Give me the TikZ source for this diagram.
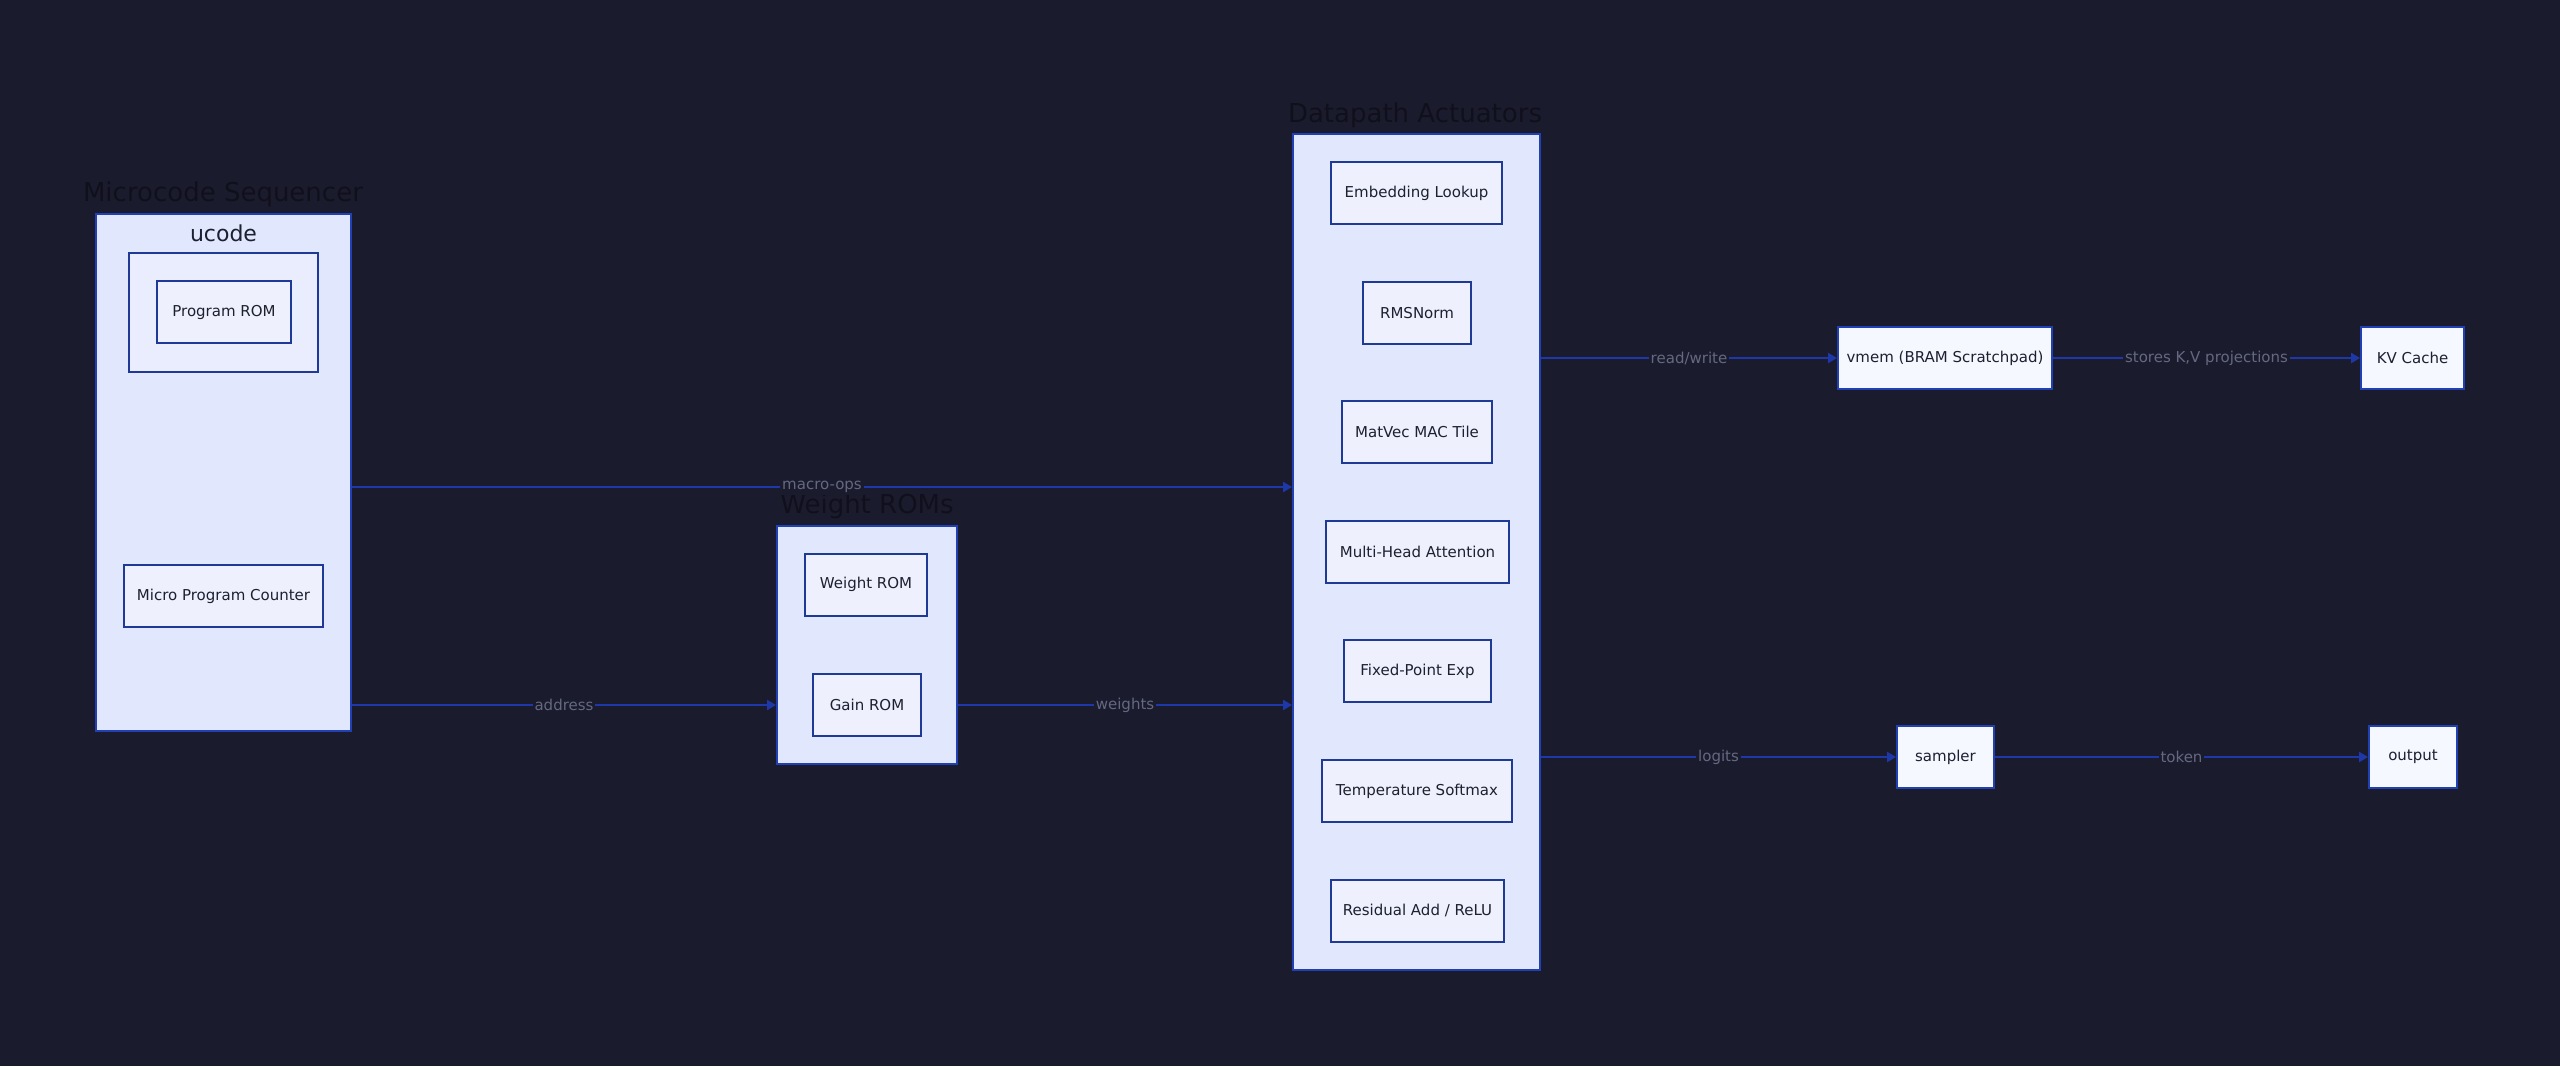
\documentclass[tikz,border=0pt]{standalone}
\usepackage{fontspec}
\setmainfont{DejaVu Sans}
\usetikzlibrary{arrows.meta}
\definecolor{bgc}{RGB}{27,27,46}
\definecolor{clfill}{RGB}{225,231,253}
\definecolor{clline}{RGB}{32,64,180}
\definecolor{ndfill}{RGB}{238,241,253}
\definecolor{ndline}{RGB}{30,58,150}
\definecolor{outfill}{RGB}{246,248,255}
\definecolor{txt}{RGB}{28,32,48}
\definecolor{lblc}{RGB}{100,104,128}
\definecolor{ttlc}{RGB}{16,16,28}
\definecolor{edgec}{RGB}{30,56,170}
\tikzset{
  cluster/.style={draw=clline, fill=clfill, line width=1pt, inner sep=0pt},
  inbox/.style={draw=ndline, fill=ndfill, line width=1pt, inner sep=0pt, text=txt, font=\fontsize{7.5pt}{9pt}\selectfont, minimum height=31pt},
  outbox/.style={draw=clline, fill=outfill, line width=1pt, inner sep=0pt, text=txt, font=\fontsize{7.5pt}{9pt}\selectfont, minimum height=31pt},
  ttl/.style={text=ttlc, font=\fontsize{13pt}{15pt}\selectfont, inner sep=0pt},
  edge/.style={draw=edgec, line width=1.2pt, -{Triangle[length=4.5pt,width=5pt]}},
  lbl/.style={fill=bgc, text=lblc, font=\fontsize{7.5pt}{9pt}\selectfont, inner sep=1pt}
}
\begin{document}
\begin{tikzpicture}[x=0.5pt,y=-0.5pt]
\fill[bgc] (0,0) rectangle (2560,1066);
\useasboundingbox (0,0) rectangle (2560,1066);

% Microcode Sequencer
\node[cluster, minimum width=127.5pt, minimum height=258.5pt] (mcbox) at (223.5,472.5) {};
\node[ttl] (mctitle) at (223,194) {Microcode Sequencer};
\node[cluster, fill=ndfill!60!clfill, draw=ndline, minimum width=94.5pt, minimum height=59.5pt] (ucodebox) at (223.5,312.5) {};
\node[text=txt, font=\fontsize{11pt}{13pt}\selectfont, inner sep=0pt] (ucodelbl) at (223.5,233) {ucode};
\node[inbox, minimum width=67pt] (progrom) at (224,312) {Program ROM};
\node[inbox, minimum width=99.5pt] (upc) at (223.5,596) {Micro Program Counter};

% Weight ROMs
\node[cluster, minimum width=90pt, minimum height=119pt] (wrbox) at (867,645) {};
\node[ttl] (wrtitle) at (867,506) {Weight ROMs};
\node[inbox, minimum width=61pt] (wrom) at (866,584.5) {Weight ROM};
\node[inbox, minimum width=54pt] (grom) at (867,704.5) {Gain ROM};

% Datapath Actuators
\node[cluster, minimum width=123.5pt, minimum height=418pt] (dpbox) at (1416.5,552) {};
\node[ttl] (dptitle) at (1415,115) {Datapath Actuators};
\node[inbox, minimum width=85.5pt] (emb) at (1416.5,193) {Embedding Lookup};
\node[inbox, minimum width=54pt] (rms) at (1417,312.6) {RMSNorm};
\node[inbox, minimum width=75pt] (matvec) at (1417,432.2) {MatVec MAC Tile};
\node[inbox, minimum width=91.5pt] (mha) at (1417.5,551.8) {Multi-Head Attention};
\node[inbox, minimum width=73.5pt] (fpe) at (1417.5,671.4) {Fixed-Point Exp};
\node[inbox, minimum width=95pt] (tsm) at (1417,791) {Temperature Softmax};
\node[inbox, minimum width=86.5pt] (res) at (1417.5,910.6) {Residual Add / ReLU};

% Outer nodes
\node[outbox, minimum width=107pt] (vmem) at (1945,358) {vmem (BRAM Scratchpad)};
\node[outbox, minimum width=51.5pt] (kv) at (2412.5,358) {KV Cache};
\node[outbox, minimum width=48.5pt] (sampler) at (1945.5,757) {sampler};
\node[outbox, minimum width=44pt] (out) at (2413,757) {output};

% Edges
\coordinate (ymo) at (0,487);
\coordinate (yad) at (0,705);
\draw[edge] (mcbox.east |- ymo) -- node[lbl]{macro-ops} (dpbox.west |- ymo);
\draw[edge] (mcbox.east |- yad) -- node[lbl]{address} (wrbox.west |- yad);
\draw[edge] (wrbox.east |- yad) -- node[lbl]{weights} (dpbox.west |- yad);
\draw[edge] (dpbox.east |- vmem.west) -- node[lbl]{read/write} (vmem.west);
\draw[edge] (vmem.east) -- node[lbl]{stores K,V projections} (kv.west);
\draw[edge] (dpbox.east |- sampler.west) -- node[lbl]{logits} (sampler.west);
\draw[edge] (sampler.east) -- node[lbl]{token} (out.west);
\end{tikzpicture}
\end{document}
